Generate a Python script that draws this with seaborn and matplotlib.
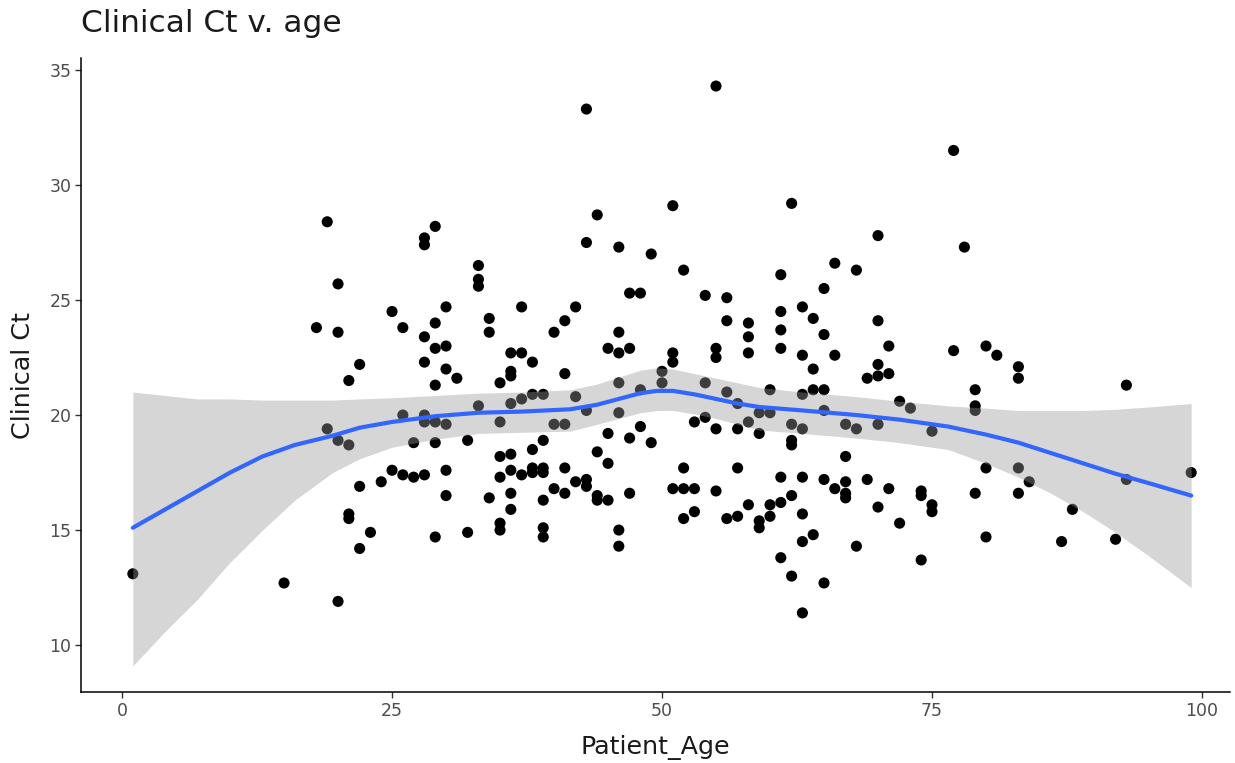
import numpy as np
import pandas as pd
import seaborn as sns
import matplotlib.pyplot as plt

# Pontos: idade -> valores de Ct
ct_by_age = {
    1: [13.1],
    15: [12.7],
    18: [23.8],
    19: [28.4, 19.4],
    20: [25.7, 23.6, 18.9, 11.9],
    21: [21.5, 18.7, 15.7, 15.5],
    22: [22.2, 16.9, 14.2],
    23: [14.9],
    24: [17.1],
    25: [24.5, 17.6],
    26: [23.8, 20.0, 17.4],
    27: [18.8, 17.3],
    28: [27.7, 27.4, 23.4, 22.3, 20.0, 19.7, 17.4],
    29: [28.2, 24.0, 22.9, 21.3, 19.7, 18.8, 14.7],
    30: [24.7, 23.0, 22.0, 19.6, 17.6, 16.5],
    31: [21.6],
    32: [18.9, 14.9],
    33: [26.5, 25.9, 25.6, 20.4],
    34: [24.2, 23.6, 16.4],
    35: [21.4, 19.7, 18.2, 17.3, 15.3, 15.0],
    36: [22.7, 21.9, 21.7, 20.5, 18.3, 17.6, 16.6, 15.9],
    37: [24.7, 22.7, 20.7, 17.4],
    38: [22.3, 20.9, 18.5, 17.7, 17.5],
    39: [20.9, 18.9, 17.7, 17.5, 16.3, 15.1, 14.7],
    40: [23.6, 19.6, 16.8],
    41: [24.1, 21.8, 19.6, 17.7, 16.6],
    42: [24.7, 20.8, 17.1],
    43: [33.3, 27.5, 20.2, 17.2, 16.9],
    44: [28.7, 18.4, 16.5, 16.3],
    45: [22.9, 19.2, 17.9, 16.3],
    46: [27.3, 23.6, 22.7, 21.4, 20.1, 15.0, 14.3],
    47: [25.3, 22.9, 19.0, 16.6],
    48: [25.3, 21.1, 19.5],
    49: [27.0, 18.8],
    50: [21.9, 21.4],
    51: [29.1, 22.7, 22.3, 16.8],
    52: [26.3, 17.7, 16.8, 15.5],
    53: [19.7, 16.8, 15.8],
    54: [25.2, 21.4, 19.9],
    55: [34.3, 22.9, 22.5, 19.4, 16.7],
    56: [25.1, 24.1, 21.0, 15.5],
    57: [20.5, 19.4, 17.7, 15.6],
    58: [24.0, 23.4, 22.7, 19.7, 16.1],
    59: [20.1, 19.2, 15.4, 15.1],
    60: [21.1, 20.1, 16.1, 15.6],
    61: [26.1, 24.5, 23.7, 22.9, 17.3, 16.2, 13.8],
    62: [29.2, 19.6, 18.9, 18.7, 16.5, 13.0],
    63: [24.7, 22.6, 20.9, 19.4, 17.3, 15.7, 14.5, 11.4],
    64: [24.2, 22.0, 21.1, 14.8],
    65: [25.5, 23.5, 21.1, 20.2, 17.2, 12.7],
    66: [26.6, 22.6, 16.8],
    67: [19.6, 18.2, 17.1, 16.6, 16.4],
    68: [26.3, 19.4, 14.3],
    69: [21.6, 17.2],
    70: [27.8, 24.1, 22.2, 21.7, 19.6, 16.0],
    71: [23.0, 21.8, 16.8],
    72: [20.6, 15.3],
    73: [20.3],
    74: [16.7, 16.5, 13.7],
    75: [19.3, 16.1, 15.8],
    77: [31.5, 22.8],
    78: [27.3],
    79: [21.1, 20.4, 20.2, 16.6],
    80: [23.0, 17.7, 14.7],
    81: [22.6],
    83: [22.1, 21.6, 17.7, 16.6],
    84: [17.1],
    87: [14.5],
    88: [15.9],
    92: [14.6],
    93: [21.3, 17.2],
    99: [17.5],
}

# Curva suavizada (loess) e intervalo de confiança
smooth_age = [1, 4, 7, 10, 13, 16, 19.5, 22, 25, 29, 33, 37, 41.5, 44, 46, 48, 49.5,
              51, 53, 55, 57, 59, 63, 68, 72, 76.5, 80, 83, 86, 89, 92, 95, 99]
smooth_fit = [15.1, 15.9, 16.7, 17.5, 18.2, 18.7, 19.1, 19.45, 19.7, 19.95, 20.1, 20.15,
              20.25, 20.45, 20.7, 20.95, 21.05, 21.05, 20.9, 20.7, 20.5, 20.35, 20.2, 20.0,
              19.8, 19.5, 19.15, 18.8, 18.35, 17.9, 17.45, 17.05, 16.5]
smooth_low = [9.1, 10.6, 12.0, 13.6, 15.0, 16.3, 17.5, 18.1, 18.6, 18.95, 19.2, 19.25,
              19.3, 19.6, 19.85, 20.1, 20.2, 20.2, 20.05, 19.85, 19.6, 19.35, 19.2, 19.0,
              18.8, 18.5, 17.9, 17.3, 16.6, 15.8, 14.9, 13.9, 12.5]
smooth_high = [21.0, 20.85, 20.7, 20.7, 20.65, 20.65, 20.65, 20.7, 20.75, 20.85, 20.95, 21.0,
               21.1, 21.35, 21.65, 21.95, 22.05, 22.0, 21.8, 21.6, 21.4, 21.2, 21.0, 20.8,
               20.6, 20.4, 20.3, 20.2, 20.2, 20.2, 20.25, 20.35, 20.5]

df = pd.DataFrame(
    [(age, ct) for age, vals in ct_by_age.items() for ct in vals],
    columns=['Patient_Age', 'Clinical Ct'],
)
smooth_df = pd.DataFrame({'Patient_Age': smooth_age, 'fit': smooth_fit})

sns.set_style('ticks')
plt.rcParams['font.family'] = ['DejaVu Sans']

fig = plt.figure(figsize=(12.35, 7.63), dpi=100)
ax = fig.add_axes([0.0656, 0.093, 0.9304, 0.831])

sns.scatterplot(data=df, x='Patient_Age', y='Clinical Ct', color='black', s=64,
                edgecolor='none', ax=ax, zorder=2)
ax.fill_between(smooth_age, smooth_low, smooth_high, color='#999999', alpha=0.4,
                linewidth=0, zorder=3)
sns.lineplot(data=smooth_df, x='Patient_Age', y='fit', color='#3366FF', linewidth=3,
             ax=ax, zorder=4)

ax.set_xlim(-3.8, 102.6)
ax.set_ylim(7.96, 35.52)
ax.set_xticks([0, 25, 50, 75, 100])
ax.set_yticks([10, 15, 20, 25, 30, 35])
ax.tick_params(axis='both', labelsize=12.5, colors='#333333', length=4, width=1, pad=3)
ax.tick_params(axis='both', labelcolor='#4d4d4d')
for side in ['top', 'right']:
    ax.spines[side].set_visible(False)
for side in ['left', 'bottom']:
    ax.spines[side].set_color('black')
    ax.spines[side].set_linewidth(1.1)

ax.set_xlabel('Patient_Age', fontsize=18.3, color='#1a1a1a', labelpad=11)
ax.set_ylabel('Clinical Ct', fontsize=18.3, color='#1a1a1a', labelpad=10)
ax.set_title('Clinical Ct v. age', loc='left', fontsize=22.5, color='#1a1a1a', pad=19)

fig.savefig('out.png', dpi=100)
